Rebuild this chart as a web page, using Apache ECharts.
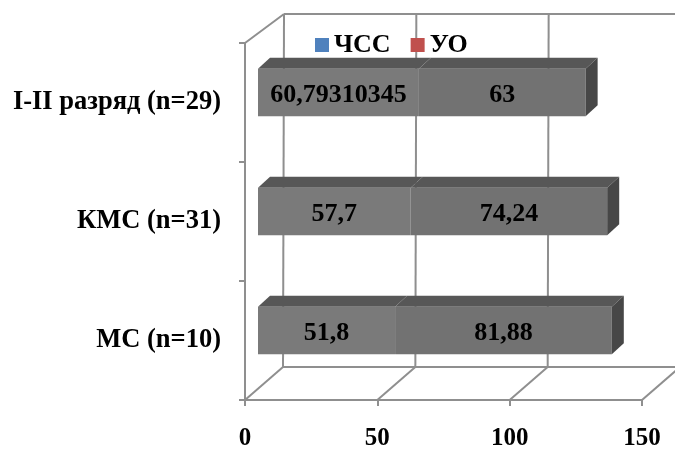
<!DOCTYPE html>
<html>
<head>
<meta charset="utf-8">
<script src="https://cdn.jsdelivr.net/npm/echarts@6/dist/echarts.min.js"></script>
<style>
  html, body { margin: 0; padding: 0; background: #fff; }
  #chart { width: 675px; height: 451px; }
</style>
</head>
<body>
<div id="chart"></div>
<script>
const categories = ['МС (n=10)', 'КМС (n=31)', 'I-II разряд (n=29)'];
const hrValues = [51.8, 57.7, 60.79310345];   // ЧСС
const svValues = [81.88, 74.24, 63];          // УО
const xTicks = [0, 50, 100, 150];

const FONT = '"Liberation Serif", "Times New Roman", serif';
const GRID_COLOR = '#8f8f8f';
// oblique offsets used to fake Excel's 3D look
const BAR_SHIFT = [13, -10];    // front face of bars, from front plane
const BAR_DEPTH = [12, -11];    // thickness of the bars
const WALL_BOTTOM = [38, -33];  // floor depth
const WALL_TOP = [39, -29];     // top edge depth

const fmt = v => String(v).replace('.', ',');

function barItem(params, api, withSide, faceColor) {
  const start = api.value(0), end = api.value(1), cat = api.value(2);
  const label = api.value(3);
  const p0 = api.coord([start, cat]);
  const p1 = api.coord([end, cat]);
  const band = api.size([0, 1])[1];
  const h = band * 0.4;
  const x0 = p0[0] + BAR_SHIFT[0], x1 = p1[0] + BAR_SHIFT[0];
  const yT = p0[1] + BAR_SHIFT[1] - h / 2, yB = yT + h;
  const dx = BAR_DEPTH[0], dy = BAR_DEPTH[1];
  const children = [
    { type: 'polygon', shape: { points: [[x0, yT], [x1, yT], [x1 + dx, yT + dy], [x0 + dx, yT + dy]] },
      style: { fill: '#575757' } },
    { type: 'rect', shape: { x: x0, y: yT, width: x1 - x0, height: h },
      style: { fill: faceColor } }
  ];
  if (withSide) {
    children.push({ type: 'polygon',
      shape: { points: [[x1, yT], [x1 + dx, yT + dy], [x1 + dx, yB + dy], [x1, yB]] },
      style: { fill: '#474747' } });
  }
  children.push({ type: 'text', style: {
    text: fmt(label), x: (x0 + x1) / 2, y: (yT + yB) / 2 + 3,
    align: 'center', verticalAlign: 'middle',
    font: 'bold 26px ' + FONT, fill: '#000' } });
  return { type: 'group', children };
}

function frameItem(params, api) {
  const band = api.size([0, 1])[1];
  const first = api.coord([0, 0]);
  const last = api.coord([0, categories.length - 1]);
  const yBot = first[1] + band / 2, yTop = last[1] - band / 2;
  const lines = [];
  const ln = (a, b) => lines.push({ type: 'line',
    shape: { x1: a[0], y1: a[1], x2: b[0], y2: b[1] },
    style: { stroke: GRID_COLOR, lineWidth: 2 } });
  xTicks.forEach(v => {
    const x = api.coord([v, 0])[0];
    const fb = [x, yBot];
    const bb = [x + WALL_BOTTOM[0], yBot + WALL_BOTTOM[1]];
    const bt = [x + WALL_TOP[0], yTop + WALL_TOP[1]];
    ln(fb, bb);
    ln(bb, bt);
  });
  const xl = api.coord([0, 0])[0];
  const xr = api.coord([xTicks[xTicks.length - 1], 0])[0];
  ln([xl + WALL_BOTTOM[0], yBot + WALL_BOTTOM[1]], [xr + WALL_BOTTOM[0] + 40, yBot + WALL_BOTTOM[1]]);
  ln([xl + WALL_TOP[0], yTop + WALL_TOP[1]], [xr + WALL_TOP[0] + 40, yTop + WALL_TOP[1]]);
  ln([xl, yTop], [xl + WALL_TOP[0], yTop + WALL_TOP[1]]);
  return { type: 'group', children: lines };
}

const hrData = categories.map((c, i) => [0, hrValues[i], i, hrValues[i]]);
const svData = categories.map((c, i) => [hrValues[i], hrValues[i] + svValues[i], i, svValues[i]]);

const chart = echarts.init(document.getElementById('chart'), null, { renderer: 'canvas' });
chart.setOption({
  animation: false,
  legend: {
    data: ['ЧСС', 'УО'],
    left: 310, top: 27,
    icon: 'rect', itemWidth: 14, itemHeight: 14, itemGap: 20,
    textStyle: { fontFamily: FONT, fontWeight: 'bold', fontSize: 26, color: '#000' }
  },
  grid: { left: 245, top: 43, width: 397, height: 357 },
  xAxis: {
    type: 'value', min: 0, max: 150, interval: 50,
    axisLine: { show: true, lineStyle: { color: GRID_COLOR, width: 2 } },
    axisTick: { show: true, length: 6, lineStyle: { color: GRID_COLOR, width: 2 } },
    splitLine: { show: false },
    axisLabel: { margin: 26, fontFamily: FONT, fontWeight: 'bold', fontSize: 25, color: '#000' }
  },
  yAxis: {
    type: 'category', data: categories,
    axisLine: { show: true, lineStyle: { color: GRID_COLOR, width: 2 } },
    axisTick: { show: true, length: 6, lineStyle: { color: GRID_COLOR, width: 2 } },
    axisLabel: { margin: 24, fontFamily: FONT, fontWeight: 'bold', fontSize: 26.5, color: '#000' }
  },
  series: [
    { type: 'custom', name: 'frame', silent: true, clip: false, z: 1,
      data: [[0, 0, 0]], renderItem: frameItem },
    { type: 'custom', name: 'ЧСС', clip: false, z: 2, itemStyle: { color: '#4f81bd' },
      encode: { x: [0, 1], y: 2 }, data: hrData,
      renderItem: (p, api) => barItem(p, api, false, '#7a7a7a') },
    { type: 'custom', name: 'УО', clip: false, z: 3, itemStyle: { color: '#c0504d' },
      encode: { x: [0, 1], y: 2 }, data: svData,
      renderItem: (p, api) => barItem(p, api, true, '#727272') }
  ]
});
</script>
</body>
</html>
